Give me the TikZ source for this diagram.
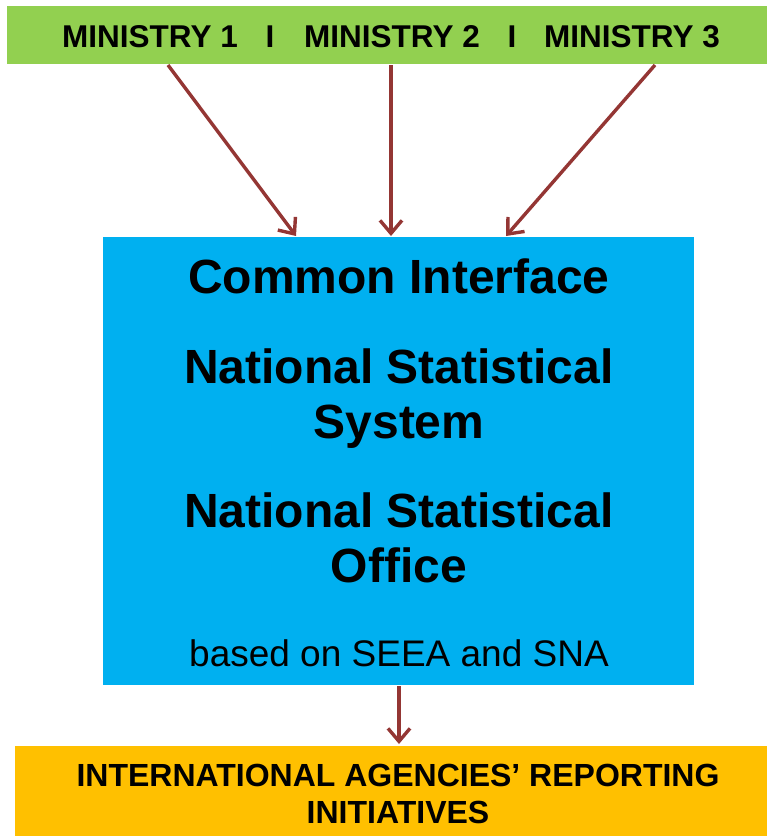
\documentclass[tikz,border=0pt]{standalone}
\usepackage{fontspec}
\setmainfont{Liberation Sans}
\usetikzlibrary{arrows.meta}
\definecolor{bargreen}{HTML}{92D050}
\definecolor{boxblue}{HTML}{00B0F0}
\definecolor{barorange}{HTML}{FFC000}
\definecolor{arrowred}{HTML}{943634}
\tikzset{
  bar/.style={draw=none, inner sep=0pt, outer sep=0pt},
  bigtxt/.style={anchor=base, inner sep=0pt, font=\fontsize{48}{54}\selectfont\bfseries},
  bartxt/.style={anchor=base, inner sep=0pt, font=\fontsize{31.5}{37}\selectfont\bfseries},
  bottxt/.style={anchor=base, inner sep=0pt, font=\fontsize{32}{37}\selectfont\bfseries},
  smalltxt/.style={anchor=base, inner sep=0pt, font=\fontsize{37}{42}\selectfont},
  flow/.style={draw=arrowred, line width=3.4pt, -{Straight Barb[length=13pt,width=22pt,line width=3.4pt]}}
}
\begin{document}
\begin{tikzpicture}[x=1pt,y=-1pt]
\useasboundingbox (0,0) rectangle (767,836);
% top bar
\node[bar, fill=bargreen, minimum width=760pt, minimum height=58pt] (top) at (387,35) {};
\node[bartxt] (m1) at (150,47) {MINISTRY 1};
\node[bartxt] (s1) at (270,47) {I};
\node[bartxt] (m2) at (392,47) {MINISTRY 2};
\node[bartxt] (s2) at (512,47) {I};
\node[bartxt] (m3) at (632,47) {MINISTRY 3};
% central box
\node[bar, fill=boxblue, minimum width=591pt, minimum height=448pt] (box) at (398.5,461) {};
\node[bigtxt] (t1) at (399,293) {Common Interface};
\node[bigtxt] (t2) at (399,383) {National Statistical};
\node[bigtxt] (t3) at (399,438) {System};
\node[bigtxt] (t4) at (399,527) {National Statistical};
\node[bigtxt] (t5) at (399,582) {Office};
\node[smalltxt] (t6) at (399,666) {based on SEEA and SNA};
% bottom bar
\node[bar, fill=barorange, minimum width=752pt, minimum height=90pt] (bot) at (391,791) {};
\node[bottxt] (b1) at (398,786) {INTERNATIONAL AGENCIES’ REPORTING};
\node[bottxt] (b2) at (398,823) {INITIATIVES};
% connector coordinates
\coordinate (a1s) at (168,65);
\coordinate (a1e) at (296,236);
\coordinate (a2s) at (391,65);
\coordinate (a2e) at (391,236);
\coordinate (a3s) at (655,65);
\coordinate (a3e) at (506,236);
\coordinate (a4s) at (399,686);
\coordinate (a4e) at (399,744);
\draw[flow] (a1s) -- (a1e);
\draw[flow] (a2s) -- (a2e);
\draw[flow] (a3s) -- (a3e);
\draw[flow] (a4s) -- (a4e);
\end{tikzpicture}
\end{document}
